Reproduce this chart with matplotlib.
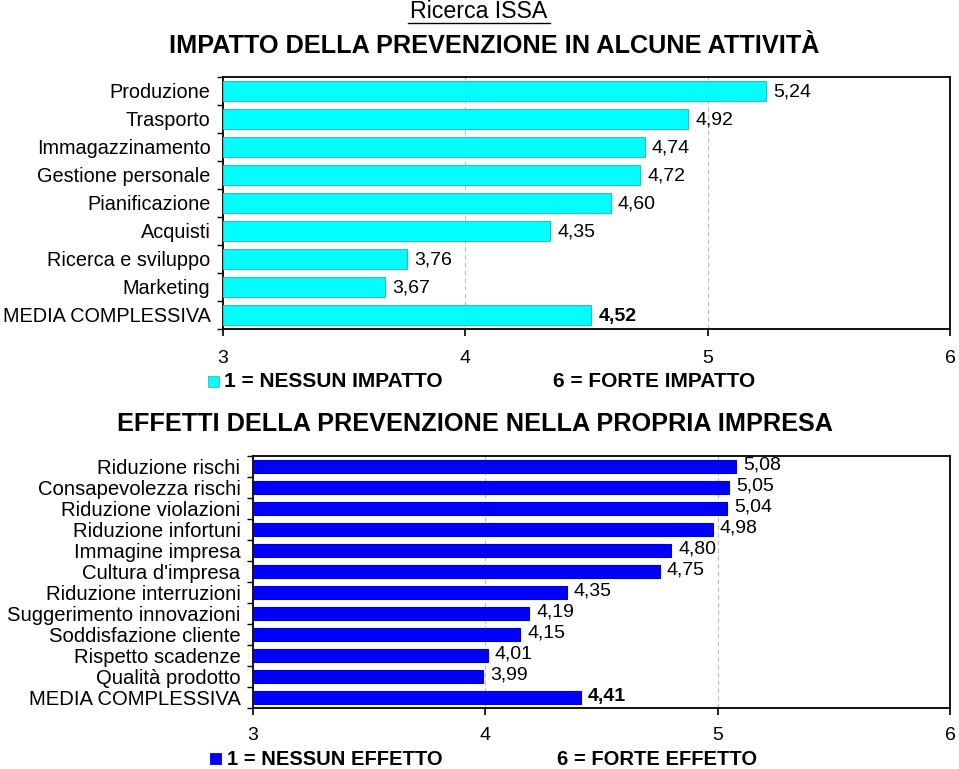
import numpy as np
import matplotlib.pyplot as plt
from matplotlib.patches import Rectangle

plt.rcParams['font.family'] = ['Liberation Sans', 'DejaVu Sans']

# data
attivita = ["Produzione", "Trasporto", "Immagazzinamento", "Gestione personale",
            "Pianificazione", "Acquisti", "Ricerca e sviluppo", "Marketing",
            "MEDIA COMPLESSIVA"]
impatto = [5.24, 4.92, 4.74, 4.72, 4.60, 4.35, 3.76, 3.67, 4.52]

effetti = ["Riduzione rischi", "Consapevolezza rischi", "Riduzione violazioni",
           "Riduzione infortuni", "Immagine impresa", "Cultura d'impresa",
           "Riduzione interruzioni", "Suggerimento innovazioni",
           "Soddisfazione cliente", "Rispetto scadenze", "Qualità prodotto",
           "MEDIA COMPLESSIVA"]
effetto = [5.08, 5.05, 5.04, 4.98, 4.80, 4.75, 4.35, 4.19, 4.15, 4.01, 3.99, 4.41]

xticks = [3, 4, 5, 6]

fig = plt.figure(figsize=(9.59, 7.69), dpi=100)


def fmt(v):
    return f"{v:.2f}".replace(".", ",")


def draw(ax, labels, values, color, edge, height, lblsize, valsize, dy, xpad):
    n = len(labels)
    y = np.arange(n)
    ax.barh(y, [v - 3 for v in values], left=3, height=height, color=color,
            edgecolor=edge, linewidth=0.8, zorder=3)
    ax.set_xlim(3, 6)
    ax.set_ylim(n - 0.5, -0.5)
    for xv in [4, 5]:
        ax.axvline(xv, color="#bbbbbb", linestyle=(0, (4, 3)), linewidth=0.8, zorder=1)
    for i, v in enumerate(values):
        last = i == n - 1
        ax.text(v + 0.03, i + dy, fmt(v), va="center", ha="left", fontsize=valsize,
                fontweight="bold" if last else "normal", zorder=4)
    ax.set_yticks(y)
    ax.set_yticklabels(labels, fontsize=lblsize)
    ax.set_yticks(np.arange(-0.5, n, 1), minor=True)
    ax.tick_params(axis="y", which="major", length=0, pad=9)
    ax.tick_params(axis="y", which="minor", length=4, direction="out", width=1)
    ax.set_xticks(xticks)
    ax.set_xticklabels([str(t) for t in xticks], fontsize=14)
    ax.tick_params(axis="x", length=5, direction="out", width=1.2, pad=xpad)
    for s in ax.spines.values():
        s.set_linewidth(1.3)


ax1 = fig.add_axes([0.2325, 0.5722, 0.7581, 0.3277])
draw(ax1, attivita, impatto, "#00ffff", "#33bbbb", 0.72, 14.3, 14, 0.05, 10)

ax2 = fig.add_axes([0.2638, 0.0793, 0.7268, 0.3277])
draw(ax2, effetti, effetto, "#0000ff", "#0000cc", 0.66, 14.6, 14, -0.05, 9)

# titles
fig.text(0.4995, 0.985, "Ricerca ISSA", ha="center", va="center", fontsize=16.7)
fig.add_artist(plt.Line2D([0.425, 0.573], [0.9705, 0.9705], color="black", linewidth=1))
fig.text(0.515, 0.940, "IMPATTO DELLA PREVENZIONE IN ALCUNE ATTIVITÀ",
         ha="center", va="center", fontsize=18.2, fontweight="bold")
fig.text(0.4948, 0.449, "EFFETTI DELLA PREVENZIONE NELLA PROPRIA IMPRESA",
         ha="center", va="center", fontsize=18.2, fontweight="bold")

# legends
fig.add_artist(Rectangle((0.217, 0.497), 0.011, 0.0143, transform=fig.transFigure,
                         facecolor="#00ffff", edgecolor="#33bbbb", linewidth=0.6))
fig.text(0.234, 0.504, "1 = NESSUN IMPATTO", ha="left", va="center",
         fontsize=15, fontweight="bold")
fig.text(0.5766, 0.504, "6 = FORTE IMPATTO", ha="left", va="center",
         fontsize=15, fontweight="bold")

fig.add_artist(Rectangle((0.219, 0.006), 0.011, 0.0143, transform=fig.transFigure,
                         facecolor="#0000ff", edgecolor="#0000cc", linewidth=0.6))
fig.text(0.237, 0.013, "1 = NESSUN EFFETTO", ha="left", va="center",
         fontsize=14.5, fontweight="bold")
fig.text(0.5808, 0.013, "6 = FORTE EFFETTO", ha="left", va="center",
         fontsize=14.5, fontweight="bold")

fig.savefig("out.png", dpi=100)
